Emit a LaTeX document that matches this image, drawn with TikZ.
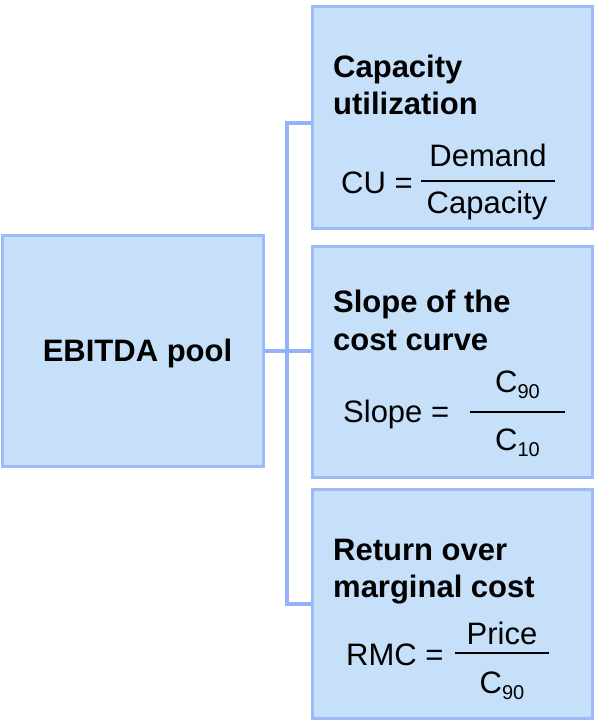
\documentclass[tikz,border=0pt]{standalone}
\usepackage{fontspec}
\setmainfont{Liberation Sans}
\definecolor{boxfill}{RGB}{198,224,250}
\definecolor{boxline}{RGB}{158,186,248}
\definecolor{conn}{RGB}{150,176,252}
\tikzset{
  card/.style={rectangle, draw=boxline, fill=boxfill, line width=2pt, inner sep=0pt},
  ttl/.style={anchor=base west, inner sep=0pt, font=\fontsize{31}{37}\selectfont\bfseries},
  eq/.style={inner sep=0pt, font=\fontsize{31}{37}\selectfont},
  link/.style={draw=conn, line width=4pt},
  fbar/.style={line width=2pt, black}
}
\newcommand{\subnum}[1]{\raisebox{-6pt}{\fontsize{20}{20}\selectfont #1}}
\begin{document}
\begin{tikzpicture}[x=1pt,y=-1pt]
\useasboundingbox (0,0) rectangle (594,721);
% boxes
\node[card, minimum width=260pt, minimum height=230pt] (ebitda) at (133,351) {};
\node[card, minimum width=279pt, minimum height=221pt] (top) at (452.5,117.5) {};
\node[card, minimum width=279pt, minimum height=230pt] (mid) at (452.5,362) {};
\node[card, minimum width=279pt, minimum height=228pt] (bot) at (452.5,604) {};
% connectors
\coordinate (jt) at (287,123);
\coordinate (jm) at (287,351);
\coordinate (jb) at (287,604);
\draw[link] (jt -| top.west) -- (jt) -- (jb) -- (jb -| bot.west);
\draw[link] (ebitda.east) -- (jm) -- (jm -| mid.west);
% redraw box outlines above connectors
\draw[draw=boxline, line width=2pt] (top.north west) rectangle (top.south east);
\draw[draw=boxline, line width=2pt] (mid.north west) rectangle (mid.south east);
\draw[draw=boxline, line width=2pt] (bot.north west) rectangle (bot.south east);
\draw[draw=boxline, line width=2pt] (ebitda.north west) rectangle (ebitda.south east);
% EBITDA text
\node[ttl, anchor=base] (etxt) at (137.5,361) {EBITDA pool};
% top box
\node[ttl] (t1) at (333,77) {Capacity};
\node[ttl] (t2) at (333,114) {utilization};
\node[eq, anchor=base west] (cu) at (341,193) {CU =};
\node[eq, anchor=base] (cun) at (488,166) {Demand};
\node[eq, anchor=base] (cud) at (487,213) {Capacity};
\draw[fbar] (421,181) -- (555,181);
% middle box
\node[ttl] (m1) at (333,312) {Slope of the};
\node[ttl] (m2) at (333,350) {cost curve};
\node[eq, anchor=base west] (sl) at (343,422) {Slope =};
\node[eq, anchor=base] (sln) at (517.5,392) {C\subnum{90}};
\node[eq, anchor=base] (sld) at (517.5,450) {C\subnum{10}};
\draw[fbar] (470,412) -- (565,412);
% bottom box
\node[ttl] (b1) at (333,560) {Return over};
\node[ttl] (b2) at (333,597) {marginal cost};
\node[eq, anchor=base west] (rmc) at (346,665) {RMC =};
\node[eq, anchor=base] (rmn) at (502,644) {Price};
\node[eq, anchor=base] (rmd) at (502,693) {C\subnum{90}};
\draw[fbar] (455,653) -- (549,653);
\end{tikzpicture}
\end{document}
